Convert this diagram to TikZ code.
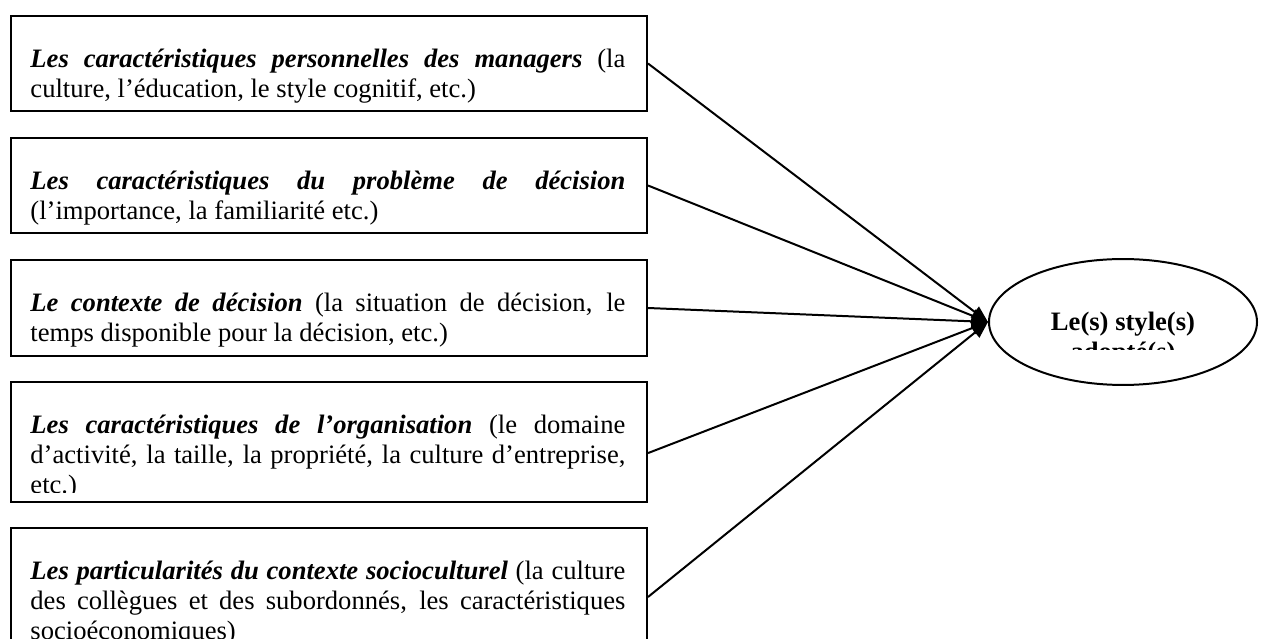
\documentclass[tikz,border=0pt]{standalone}
\usepackage{fontspec}
\setmainfont{Liberation Serif}
\usetikzlibrary{arrows.meta}
\usetikzlibrary{shapes.geometric}
\setlength{\parindent}{0pt}
\hyphenpenalty=10000

\begin{document}
\begin{tikzpicture}[x=0.4511pt,y=-0.4511pt,
  cadre/.style={draw,line width=0.9pt,minimum width=286.9pt,inner sep=0pt},
  texte/.style={anchor=north west,inner sep=0pt,text width=268.4pt,align=justify,font=\fontsize{12}{13.5}\selectfont},
  fleche/.style={line width=0.9pt,-{Triangle[length=7.5pt,width=6pt]}}]

\clip (0,0) rectangle (1261,639);

% les cinq facteurs
\node[cadre,minimum height=42.9pt] (perso) at (329,63.5) {};
\node[cadre,minimum height=42.9pt] (probleme) at (329,185.5) {};
\node[cadre,minimum height=43.3pt] (contexte) at (329,308) {};
\node[cadre,minimum height=54.1pt] (organisation) at (329,442) {};
\node[cadre,minimum height=62.3pt] (socio) at (329,597) {};

\node[texte] (perso-t) at (30,46) {\strut\textbf{\textit{Les caractéristiques personnelles des managers}} (la\linebreak culture, l’éducation, le style cognitif, etc.)};
\node[texte] (probleme-t) at (30,168) {\strut\textbf{\textit{Les caractéristiques du problème de décision}}\linebreak (l’importance, la familiarité etc.)};
\node[texte] (contexte-t) at (30,290) {\strut\textbf{\textit{Le contexte de décision}} (la situation de décision, le\linebreak temps disponible pour la décision, etc.)};
\begin{scope}
\clip (12,383) rectangle (646,493);
\node[texte] (organisation-t) at (30,412) {\strut\textbf{\textit{Les caractéristiques de l’organisation}} (le domaine\linebreak d’activité, la taille, la propriété, la culture d’entreprise,\linebreak etc.)};
\end{scope}
\node[texte] (socio-t) at (30,558) {\strut\textbf{\textit{Les particularités du contexte socioculturel}} (la culture\linebreak des collègues et des subordonnés, les caractéristiques\linebreak socioéconomiques)};

% le style adopte
\node[draw,ellipse,line width=0.9pt,minimum width=120.9pt,minimum height=56.8pt,inner sep=0pt] (style) at (1123,322) {};
\begin{scope}
\clip (990,258) rectangle (1258,350);
\node[anchor=north,inner sep=0pt,align=center,font=\fontsize{12}{13.5}\selectfont\bfseries] (style-t) at (1123,309) {\strut Le(s) style(s)\\adopté(s)};
\end{scope}

\draw[fleche] (perso.east) -- (style.west);
\draw[fleche] (probleme.east) -- (style.west);
\draw[fleche] (contexte.east) -- (style.west);
\draw[fleche] ([yshift=-5pt]organisation.east) -- (style.west);
\draw[fleche] (socio.east) -- (style.west);

\end{tikzpicture}
\end{document}
